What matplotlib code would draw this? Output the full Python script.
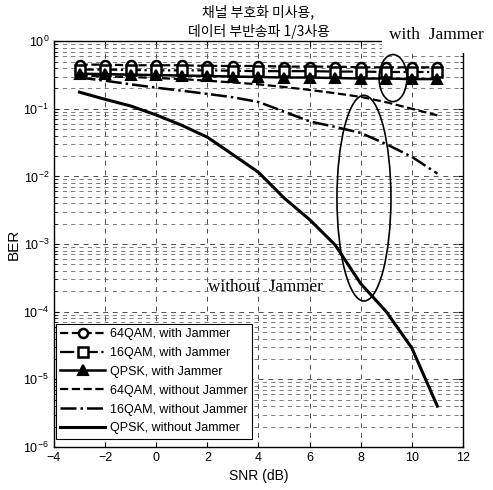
import matplotlib
matplotlib.use("Agg")
import matplotlib.pyplot as plt
import numpy as np
from matplotlib.patches import Ellipse, Rectangle

plt.rcParams['font.family'] = ['Liberation Sans', 'DejaVu Sans']

# SNR (dB)
snr = [-3, -2, -1, 0, 1, 2, 3, 4, 5, 6, 7, 8, 9, 10, 11]

# BER, with Jammer
ber_64qam_j = [0.45, 0.45, 0.44, 0.44, 0.44, 0.43, 0.43, 0.43, 0.42, 0.42, 0.42, 0.41, 0.41, 0.41, 0.41]
ber_16qam_j = [0.38, 0.38, 0.375, 0.37, 0.37, 0.37, 0.365, 0.36, 0.36, 0.36, 0.355, 0.355, 0.35, 0.35, 0.35]
ber_qpsk_j = [0.33, 0.325, 0.32, 0.315, 0.31, 0.305, 0.30, 0.295, 0.29, 0.29, 0.285, 0.28, 0.28, 0.275, 0.275]

# BER, without Jammer
ber_64qam = [0.31, 0.30, 0.295, 0.285, 0.275, 0.26, 0.245, 0.23, 0.21, 0.19, 0.17, 0.15, 0.125, 0.10, 0.08]
ber_16qam = [0.29, 0.26, 0.23, 0.205, 0.185, 0.166, 0.148, 0.126, 0.091, 0.065, 0.054, 0.044, 0.030, 0.0195, 0.011]
ber_qpsk = [0.176, 0.138, 0.11, 0.081, 0.057, 0.038, 0.021, 0.0115, 0.0048, 0.0023, 9.7e-4, 2.6e-4, 1.0e-4, 2.9e-5, 4e-6]

labels = ['64QAM, with Jammer', '16QAM, with Jammer', 'QPSK, with Jammer',
          '64QAM, without Jammer', '16QAM, without Jammer', 'QPSK, without Jammer']

fig = plt.figure(figsize=(4.93, 4.90), dpi=100)
ax = fig.add_axes([0.1095, 0.088, 0.8295, 0.828])

mk = dict(markersize=6.5, markeredgewidth=1.8, markerfacecolor='white', markeredgecolor='k')
ax.semilogy(snr, ber_64qam_j, '--o', color='k', lw=1.6, label=labels[0], **mk)
ax.semilogy(snr, ber_16qam_j, '-.s', color='k', lw=1.6, label=labels[1], **mk)
ax.semilogy(snr, ber_qpsk_j, '-^', color='k', lw=1.8, label=labels[2],
            markersize=7, markeredgewidth=1.5, markerfacecolor='k', markeredgecolor='k')
ax.semilogy(snr, ber_64qam, '--', color='k', lw=1.6, label=labels[3])
ax.semilogy(snr, ber_16qam, '-.', color='k', lw=1.8, label=labels[4])
ax.semilogy(snr, ber_qpsk, '-', color='k', lw=2.2, label=labels[5])

ax.set_xlim(-4, 12)
ax.set_ylim(1e-6, 1)
ax.set_xticks(np.arange(-4, 13, 2))
ax.tick_params(which='both', direction='in', labelsize=9, top=True, right=True)
ax.grid(True, which='major', color='0.3', linestyle=(0, (5, 5)), lw=0.7)
ax.grid(True, which='minor', axis='y', color='0.4', linestyle=(0, (5, 5)), lw=0.6)
for s in ax.spines.values():
    s.set_linewidth(1.0)

ax.set_xlabel('SNR (dB)', fontsize=10, labelpad=4)
ax.set_ylabel('BER', fontsize=11, labelpad=2)
ax.set_title('채널 부호화 미사용,\n데이터 부반송파 1/3사용', fontsize=10,
             family=['Noto Sans CJK KR', 'DejaVu Sans'], pad=4, linespacing=1.35)

ax.add_patch(Ellipse((0.829, 0.909), 0.068, 0.116, transform=ax.transAxes,
                     fill=False, edgecolor='k', lw=1.2, zorder=5))
ax.add_patch(Ellipse((0.758, 0.613), 0.132, 0.507, transform=ax.transAxes,
                     fill=False, edgecolor='k', lw=1.2, zorder=5))

ax.text(0.377, 0.395, 'without  Jammer', transform=ax.transAxes, fontsize=12.3,
        family=['Liberation Serif', 'DejaVu Serif'], ha='left', va='center', zorder=6)

# white box covering the top-right corner, as in the scan
fig.patches.append(Rectangle((0.775, 0.892), 0.23, 0.07, transform=fig.transFigure,
                             facecolor='white', edgecolor='none', zorder=2))
fig.text(0.885, 0.929, 'with  Jammer', fontsize=12.5, ha='center', va='center',
         family=['Liberation Serif', 'DejaVu Serif'], zorder=3)

leg = ax.legend(loc='lower left', bbox_to_anchor=(0.005, 0.02), fontsize=9,
                fancybox=False, edgecolor='k', framealpha=1, borderpad=0.35,
                labelspacing=0.55, handlelength=3.6, handletextpad=0.4,
                borderaxespad=0)
leg.get_frame().set_linewidth(0.8)

fig.savefig('out.png', dpi=100)
